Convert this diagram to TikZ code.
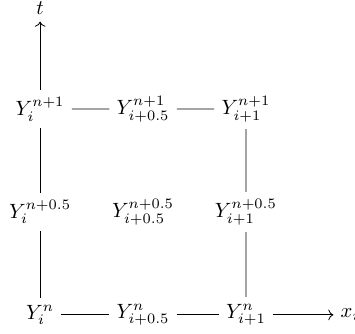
\documentclass[tikz,border=0pt]{standalone}
\usepackage{amsmath}
\usepackage{tikz}
\usetikzlibrary{arrows.meta}

\begin{document}
\begin{tikzpicture}[scale=0.875]

% =============================================================================
% CADRE
% =============================================================================
\useasboundingbox (-0.78, -0.37) rectangle (6.12, 6.12);

% =============================================================================
% NOEUDS DE LA GRILLE (colonne \col, ligne \row)
% =============================================================================
\foreach \col/\ind in {0/i, 1/{i+0.5}, 2/{i+1}} {
    \foreach \row/\expo in {0/n, 1/{n+0.5}, 2/{n+1}} {
        \node (Y\col\row) at (2*\col, 2*\row) {$Y_{\ind}^{\expo}$};
    }
}

% =============================================================================
% AXES t ET x
% =============================================================================
\coordinate (tfin) at (0, 5.7);
\coordinate (xfin) at (5.7, 0);
\node[above] (tlab) at (tfin) {$t$};
\node[right] (xlab) at (xfin) {$x_i$};
\draw[->] (Y02) -- (tfin);
\draw[->] (Y20) -- (xfin);

% =============================================================================
% LIENS
% =============================================================================
% Lignes n et n+1
\foreach \row in {0, 2} {
    \draw (Y0\row) -- (Y1\row);
    \draw (Y1\row) -- (Y2\row);
}
% Colonnes i et i+1
\foreach \col in {0, 2} {
    \draw (Y\col0) -- (Y\col1);
    \draw (Y\col1) -- (Y\col2);
}

\end{tikzpicture}
\end{document}
